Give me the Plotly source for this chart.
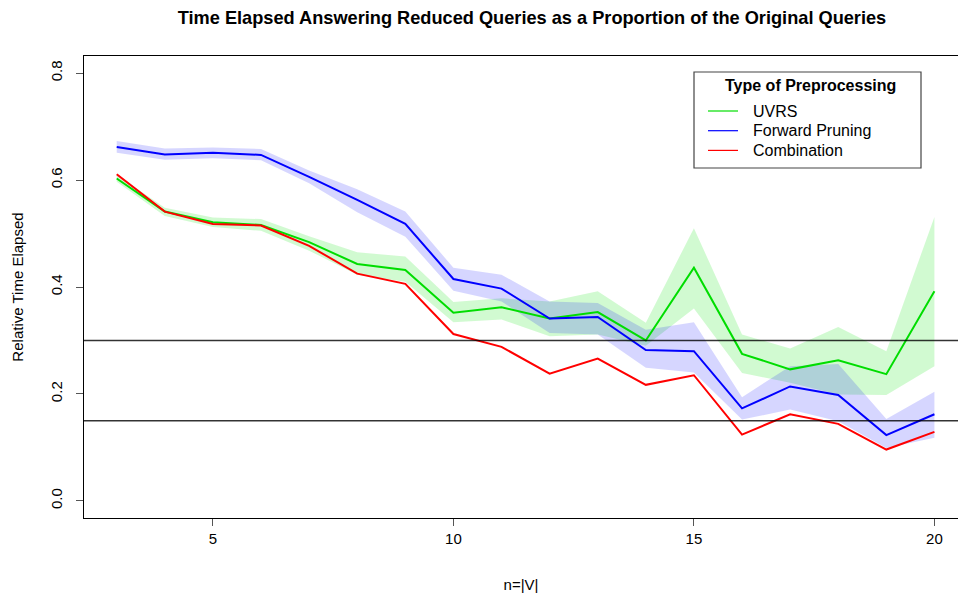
import plotly.graph_objects as go

n_vertices = list(range(3, 21))

uvrs = [0.603, 0.541, 0.521, 0.516, 0.484, 0.443, 0.432, 0.352, 0.362, 0.341,
        0.353, 0.300, 0.436, 0.275, 0.246, 0.263, 0.237, 0.392]
uvrs_lo = [0.597, 0.533, 0.512, 0.505, 0.468, 0.423, 0.410, 0.334, 0.339, 0.308,
           0.311, 0.290, 0.360, 0.239, 0.221, 0.199, 0.198, 0.252]
uvrs_hi = [0.610, 0.548, 0.530, 0.527, 0.495, 0.465, 0.457, 0.372, 0.379, 0.373,
           0.392, 0.333, 0.510, 0.311, 0.285, 0.325, 0.280, 0.531]

fp = [0.662, 0.648, 0.651, 0.647, 0.606, 0.563, 0.518, 0.415, 0.397, 0.341,
      0.344, 0.282, 0.280, 0.173, 0.214, 0.198, 0.123, 0.162]
fp_lo = [0.651, 0.638, 0.641, 0.637, 0.594, 0.540, 0.494, 0.393, 0.373, 0.314,
         0.311, 0.249, 0.240, 0.152, 0.171, 0.149, 0.099, 0.118]
fp_hi = [0.673, 0.659, 0.661, 0.658, 0.618, 0.583, 0.541, 0.436, 0.423, 0.373,
         0.370, 0.320, 0.334, 0.194, 0.252, 0.256, 0.153, 0.204]

comb = [0.611, 0.541, 0.518, 0.515, 0.477, 0.425, 0.406, 0.312, 0.288, 0.238,
        0.266, 0.217, 0.235, 0.124, 0.162, 0.144, 0.096, 0.129]

reference_levels = [0.3, 0.15]

x_ticks = [5, 10, 15, 20]
y_ticks = [0.0, 0.2, 0.4, 0.6, 0.8]

series_names = ["UVRS", "Forward Pruning", "Combination"]
series_colors = ["#00dd00", "#0000ff", "#ff0000"]
legend_title = "Type of Preprocessing"

FONT = "Liberation Sans, Arial, sans-serif"

W, H = 958, 599
# plot-area geometry in pixels
L, R, T, B = 84, 958, 56, 518

def px(xp):
    return (xp - L) / (R - L)

def py(yp):
    return (B - yp) / (B - T)

fig = go.Figure()

bands = [
    (uvrs_lo, uvrs_hi, "rgba(0,225,0,0.18)"),
    (fp_lo, fp_hi, "rgba(0,0,255,0.16)"),
]
for lo, hi, col in bands:
    fig.add_trace(go.Scatter(
        x=n_vertices + n_vertices[::-1], y=hi + lo[::-1],
        fill="toself", fillcolor=col, line=dict(width=0),
        mode="lines", showlegend=False, hoverinfo="skip"))

for name, vals, col in zip(series_names, [uvrs, fp, comb], series_colors):
    fig.add_trace(go.Scatter(
        x=n_vertices, y=vals, mode="lines", name=name, showlegend=False,
        line=dict(color=col, width=2)))

for lvl in reference_levels:
    fig.add_shape(type="line", xref="paper", x0=0, x1=1, yref="y", y0=lvl, y1=lvl,
                  line=dict(color="rgba(0,0,0,0.8)", width=1.4), layer="above")

# legend (frame, title, keys, labels)
fig.add_shape(type="rect", xref="paper", yref="paper",
              x0=px(694), x1=px(921), y0=py(168), y1=py(72),
              line=dict(color="#444", width=1.2), fillcolor="white", layer="above")
fig.add_annotation(text=f"<b>{legend_title}</b>", xref="paper", yref="paper",
                   x=px(810), y=py(85), xanchor="center", yanchor="middle",
                   showarrow=False, font=dict(size=16, family=FONT, color="black"))
for i, (name, col) in enumerate(zip(series_names, series_colors)):
    yrow = 111 + i * 19.7
    fig.add_shape(type="line", xref="paper", yref="paper",
                  x0=px(708), x1=px(738), y0=py(yrow), y1=py(yrow),
                  line=dict(color=col, width=1.2), layer="above")
    fig.add_annotation(text=name, xref="paper", yref="paper",
                       x=px(751), y=py(yrow), xanchor="left", yanchor="middle",
                       showarrow=False, font=dict(size=16, family=FONT, color="black"))

fig.update_layout(
    width=W, height=H,
    margin=dict(l=L, r=W - R, t=T, b=H - B),
    paper_bgcolor="white", plot_bgcolor="white",
    font=dict(family=FONT, size=15, color="black"),
    title=dict(text="<b>Time Elapsed Answering Reduced Queries as a Proportion of the Original Queries</b>",
               x=532 / W, xanchor="center", y=1 - 18 / H, yanchor="middle",
               font=dict(size=18.2, family=FONT)),
    showlegend=False,
)

fig.update_xaxes(
    range=[2.32, 20.49], tickvals=x_ticks, ticktext=[str(v) for v in x_ticks],
    showgrid=False, zeroline=False, showline=True, linecolor="black", linewidth=1,
    mirror=True, ticks="outside", ticklen=7, tickcolor="#555", automargin=False,
    ticklabelstandoff=0,
    title=dict(text="n=|V|", standoff=33, font=dict(size=15)),
)
fig.update_yaxes(
    range=[-0.032, 0.832], tickvals=y_ticks, ticktext=[f"{v:.1f}" for v in y_ticks],
    tickangle=-90, showgrid=False, zeroline=False, showline=True, linecolor="black",
    linewidth=1, mirror=False, ticks="outside", ticklen=7, tickcolor="#555",
    automargin=False, ticklabelstandoff=8,
    title=dict(text="Relative Time Elapsed", standoff=20, font=dict(size=15)),
)

fig.write_html("out.html", config={"displayModeBar": False},
               post_script="document.body.style.margin='0px';")
